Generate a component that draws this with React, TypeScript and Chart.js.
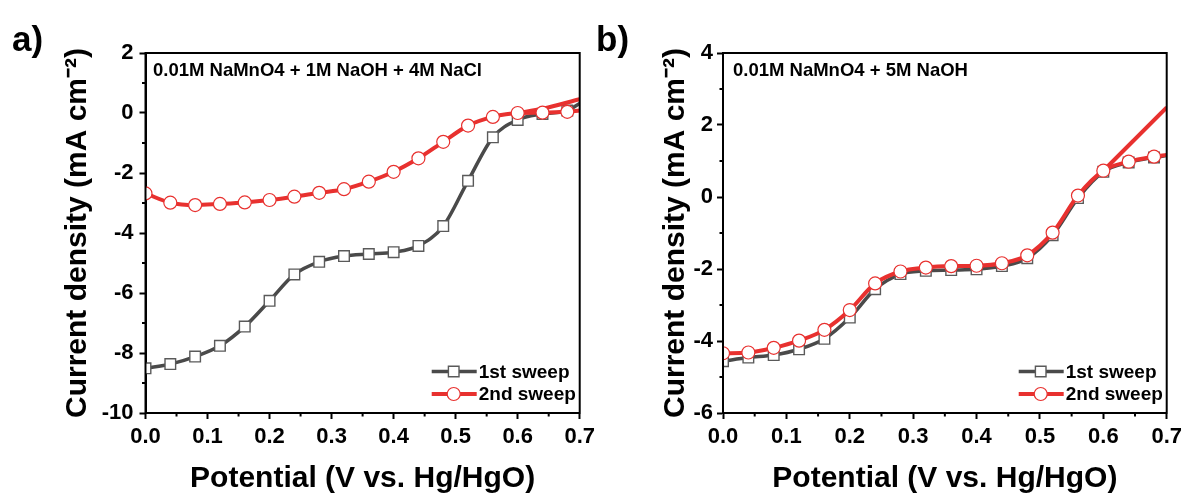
import React, { useEffect, useRef } from 'react';
import { Chart, registerables } from 'chart.js';

Chart.register(...registerables);

// ---------- data ----------
const potentialA = [0, 0.04, 0.08, 0.12, 0.16, 0.2, 0.24, 0.28, 0.32, 0.36, 0.4, 0.44, 0.48, 0.52, 0.56, 0.6, 0.64, 0.68, 0.7];
const sweep1A = [-8.51, -8.37, -8.12, -7.76, -7.12, -6.26, -5.38, -4.96, -4.77, -4.7, -4.64, -4.43, -3.77, -2.26, -0.81, -0.23, -0.03, 0.08, 0.32];
const sweep2A = [-2.68, -2.99, -3.07, -3.03, -2.98, -2.9, -2.79, -2.66, -2.54, -2.29, -1.96, -1.51, -0.96, -0.42, -0.13, 0.0, 0.01, 0.04, 0.08];
const branchPotentialA = [0.6, 0.64, 0.7];
const branch2A = [0.0, 0.14, 0.46];

const potentialB = [0, 0.04, 0.08, 0.12, 0.16, 0.2, 0.24, 0.28, 0.32, 0.36, 0.4, 0.44, 0.48, 0.52, 0.56, 0.6, 0.64, 0.68, 0.7];
const sweep1B = [-4.56, -4.46, -4.39, -4.23, -3.94, -3.35, -2.56, -2.14, -2.05, -2.03, -2.01, -1.92, -1.7, -1.06, -0.03, 0.7, 0.96, 1.1, 1.15];
const sweep2B = [-4.34, -4.32, -4.19, -3.99, -3.69, -3.14, -2.4, -2.07, -1.96, -1.92, -1.91, -1.84, -1.62, -0.99, 0.04, 0.73, 0.98, 1.12, 1.17];
const branchPotentialB = [0.6, 0.7];
const branch2B = [0.73, 2.49];

const xTicks = [0, 0.1, 0.2, 0.3, 0.4, 0.5, 0.6, 0.7];
const xMinorTicks = [0.05, 0.15, 0.25, 0.35, 0.45, 0.55, 0.65];
const yTicksA = [-10, -8, -6, -4, -2, 0, 2];
const yMinorTicksA = [-9, -7, -5, -3, -1, 1];
const yTicksB = [-6, -4, -2, 0, 2, 4];
const yMinorTicksB = [-5, -3, -1, 1, 3];

const seriesLabels = ['1st sweep', '2nd sweep'];
const xTitle = 'Potential (V vs. Hg/HgO)';
const yTitle = 'Current density (mA cm\u207B\u00B2)';

// ---------- styles ----------
const FONT = "'Liberation Sans', Arial, Helvetica, sans-serif";
const GRAY = '#4a4a4a';
const GRAY_MARK = '#5a5a5a';
const RED = '#e8312f';

Chart.defaults.font.family = FONT;

const decorPlugin = {
  id: 'panelDecor',
  afterDraw(chart: any, _args: any, opts: any) {
    const { ctx, chartArea } = chart;
    const xs = chart.scales.x;
    const ys = chart.scales.y;
    ctx.save();
    // frame
    ctx.strokeStyle = '#000';
    ctx.lineWidth = 2;
    ctx.strokeRect(chartArea.left, chartArea.top, chartArea.right - chartArea.left, chartArea.bottom - chartArea.top);
    // minor ticks
    ctx.lineWidth = 2;
    ctx.beginPath();
    (opts.xMinor || []).forEach((v: number) => {
      const px = xs.getPixelForValue(v);
      ctx.moveTo(px, chartArea.bottom);
      ctx.lineTo(px, chartArea.bottom + 3.5);
    });
    (opts.yMinor || []).forEach((v: number) => {
      const py = ys.getPixelForValue(v);
      ctx.moveTo(chartArea.left, py);
      ctx.lineTo(chartArea.left - 3.5, py);
    });
    ctx.stroke();
    // legend
    const items = chart.data.datasets.filter((d: any) => d.showInLegend);
    items.sort((a: any, b: any) => a.legendIndex - b.legendIndex);
    const rowY = [chartArea.bottom - 41.5, chartArea.bottom - 19];
    const r = chartArea.right;
    items.forEach((d: any, i: number) => {
      const y = rowY[i];
      ctx.strokeStyle = d.borderColor;
      ctx.lineWidth = d.borderWidth;
      ctx.beginPath();
      ctx.moveTo(r - 148, y);
      ctx.lineTo(r - 103, y);
      ctx.stroke();
      const cx = r - 126;
      ctx.fillStyle = '#fff';
      ctx.strokeStyle = d.pointBorderColor;
      ctx.lineWidth = d.pointBorderWidth;
      ctx.beginPath();
      if (d.pointStyle === 'rect') {
        ctx.rect(cx - 5.3, y - 5.3, 10.6, 10.6);
      } else {
        ctx.arc(cx, y, 6.5, 0, Math.PI * 2);
      }
      ctx.fill();
      ctx.stroke();
      ctx.fillStyle = '#000';
      ctx.font = `bold 19px ${FONT}`;
      ctx.textBaseline = 'middle';
      ctx.textAlign = 'left';
      ctx.fillText(d.label, r - 101, y + 1);
    });
    ctx.restore();
  },
};

function makeConfig(p: {
  xVals: number[];
  s1: number[];
  s2: number[];
  bx: number[];
  by: number[];
  yMin: number;
  yMax: number;
  yTicks: number[];
  yMinor: number[];
  axisWidth: number;
  padRight: number;
  yTitlePad: number;
  yLabelPad: number;
}) {
  const lastIdx = p.xVals.length - 1;
  const sq = (ctx: any) => (ctx.dataIndex === lastIdx ? 0 : 7.5);
  const ci = (ctx: any) => (ctx.dataIndex === lastIdx ? 0 : 6.5);
  return {
    type: 'line',
    data: {
      datasets: [
        {
          label: seriesLabels[1],
          showInLegend: true,
          legendIndex: 1,
          data: p.xVals.map((x, i) => ({ x, y: p.s2[i] })),
          borderColor: RED,
          borderWidth: 4,
          pointStyle: 'circle',
          pointRadius: ci,
          pointHoverRadius: ci,
          pointBackgroundColor: '#fff',
          pointBorderColor: RED,
          pointBorderWidth: 1.2,
          cubicInterpolationMode: 'monotone',
          clip: 0,
          order: 0,
        },
        {
          label: '',
          showInLegend: false,
          data: p.bx.map((x, i) => ({ x, y: p.by[i] })),
          borderColor: RED,
          borderWidth: 4,
          pointRadius: 0,
          cubicInterpolationMode: 'monotone',
          clip: 0,
          order: 1,
        },
        {
          label: seriesLabels[0],
          showInLegend: true,
          legendIndex: 0,
          data: p.xVals.map((x, i) => ({ x, y: p.s1[i] })),
          borderColor: GRAY,
          borderWidth: 3.5,
          pointStyle: 'rect',
          pointRadius: sq,
          pointHoverRadius: sq,
          pointBackgroundColor: '#fff',
          pointBorderColor: GRAY_MARK,
          pointBorderWidth: 1.4,
          cubicInterpolationMode: 'monotone',
          clip: 0,
          order: 2,
        },
      ],
    },
    options: {
      responsive: false,
      animation: false,
      events: [],
      layout: { padding: { left: 0, top: 53, right: p.padRight, bottom: 0 } },
      plugins: {
        legend: { display: false },
        tooltip: { enabled: false },
        panelDecor: { xMinor: xMinorTicks, yMinor: p.yMinor },
      },
      scales: {
        x: {
          type: 'linear',
          min: 0,
          max: 0.7,
          afterBuildTicks: (s: any) => {
            s.ticks = xTicks.map((v) => ({ value: v }));
          },
          afterFit: (s: any) => {
            s.height = 84;
          },
          ticks: {
            callback: (v: any) => Number(v).toFixed(1),
            font: { size: 22, weight: 'bold' },
            color: '#000',
            padding: 5,
            maxRotation: 0,
            autoSkip: false,
          },
          grid: { drawOnChartArea: false, drawTicks: true, tickLength: 6, tickWidth: 2, tickColor: '#000' },
          border: { display: true, color: '#000', width: 2 },
          title: {
            display: true,
            text: xTitle,
            color: '#000',
            font: { size: 30, weight: 'bold' },
            padding: { top: 0, bottom: 0 },
          },
        },
        y: {
          type: 'linear',
          min: p.yMin,
          max: p.yMax,
          afterBuildTicks: (s: any) => {
            s.ticks = p.yTicks.map((v) => ({ value: v }));
          },
          afterFit: (s: any) => {
            s.width = p.axisWidth;
          },
          ticks: {
            callback: (v: any) => String(v),
            font: { size: 22, weight: 'bold' },
            color: '#000',
            padding: p.yLabelPad,
            autoSkip: false,
          },
          grid: { drawOnChartArea: false, drawTicks: true, tickLength: 6, tickWidth: 2, tickColor: '#000' },
          border: { display: true, color: '#000', width: 2 },
          title: {
            display: true,
            text: yTitle,
            color: '#000',
            font: { size: 30, weight: 'bold' },
            padding: { top: p.yTitlePad, bottom: 0 },
          },
        },
      },
    },
    plugins: [decorPlugin],
  } as any;
}

function Panel(props: { config: any; width: number; left: number }) {
  const ref = useRef<HTMLCanvasElement | null>(null);
  useEffect(() => {
    if (!ref.current) return;
    const chart = new Chart(ref.current, props.config);
    return () => chart.destroy();
  }, []);
  return (
    <canvas
      ref={ref}
      width={props.width}
      height={497}
      style={{ position: 'absolute', left: props.left, top: 0, width: props.width, height: 497 }}
    />
  );
}

const configA = makeConfig({
  xVals: potentialA,
  s1: sweep1A,
  s2: sweep2A,
  bx: branchPotentialA,
  by: branch2A,
  yMin: -10,
  yMax: 2,
  yTicks: yTicksA,
  yMinor: yMinorTicksA,
  axisWidth: 145.5,
  padRight: 12,
  yTitlePad: 60,
  yLabelPad: 6,
});

const configB = makeConfig({
  xVals: potentialB,
  s1: sweep1B,
  s2: sweep2B,
  bx: branchPotentialB,
  by: branch2B,
  yMin: -6,
  yMax: 4,
  yTicks: yTicksB,
  yMinor: yMinorTicksB,
  axisWidth: 123,
  padRight: 20,
  yTitlePad: 58,
  yLabelPad: 4,
});

const textStyle: React.CSSProperties = {
  position: 'absolute',
  fontFamily: FONT,
  fontWeight: 'bold',
  color: '#000',
  whiteSpace: 'nowrap',
};

export default function App() {
  return (
    <div style={{ position: 'fixed', left: 0, top: 0, width: 1187, height: 497, background: '#fff', overflow: 'hidden' }}>
      <Panel config={configA} width={600} left={0} />
      <Panel config={configB} width={587} left={600} />
      <div style={{ ...textStyle, left: 12, top: 21, fontSize: 35, lineHeight: '35px' }}>a)</div>
      <div style={{ ...textStyle, left: 596, top: 21, fontSize: 35, lineHeight: '35px' }}>b)</div>
      <div style={{ ...textStyle, left: 153, top: 61, fontSize: 18.5, lineHeight: '18px' }}>
        0.01M NaMnO4 + 1M NaOH + 4M NaCl
      </div>
      <div style={{ ...textStyle, left: 733, top: 61, fontSize: 18.5, lineHeight: '18px' }}>
        0.01M NaMnO4 + 5M NaOH
      </div>
    </div>
  );
}
